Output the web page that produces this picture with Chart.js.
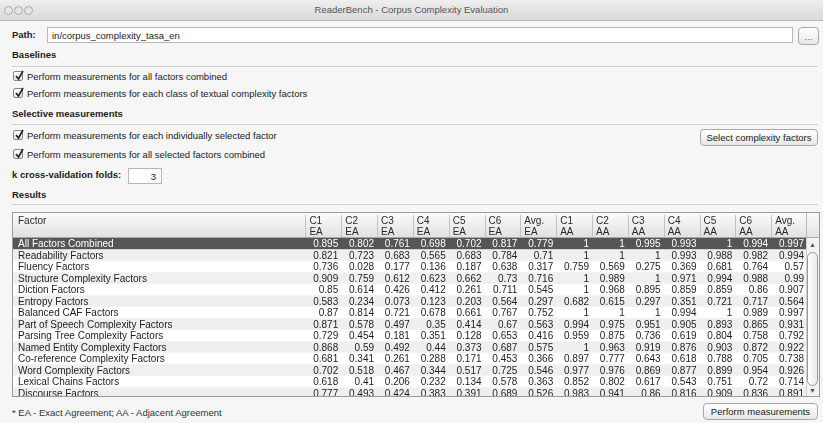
<!DOCTYPE html>
<html><head><meta charset="utf-8">
<script src="https://cdn.jsdelivr.net/npm/chart.js@4.4.0/dist/chart.umd.min.js"></script>
<style>
html,body{margin:0;padding:0}
body{width:823px;height:423px;overflow:hidden;background:#f6f6f6;font-family:"Liberation Sans",Arial,sans-serif;font-size:9.5px;color:#222;position:relative}
.a{position:absolute;white-space:nowrap}
#title{left:0;top:0;width:823px;height:20px;background:linear-gradient(#efefef,#d9d9d9);border-bottom:1px solid #b4b4b4}
#title span{position:absolute;left:0;right:0;top:4px;text-align:center;color:#555;font-size:9.5px}
.dot{position:absolute;top:6px;width:7px;height:7px;border:1px solid #aaa;border-radius:50%;background:#e6e6e6}
.b{font-weight:bold}
.field{background:#fff;border:1px solid #b8b8b8;box-sizing:border-box}
.btn{background:linear-gradient(#ffffff,#e8e8e8);border:1px solid #a8a8a8;border-radius:4px;box-sizing:border-box;text-align:center;font-size:9.5px}
.hr{height:1px;background:#cfcfcf;left:12px;width:806px}
.cb{width:10px;height:10px;border:1px solid #888;border-radius:2px;background:linear-gradient(#fff,#e4e4e4);box-sizing:border-box}
.cb svg{position:absolute;left:0;top:-2px}
#table{left:12px;top:212px;width:808px;height:185px;border:1px solid #9a9a9a;box-sizing:border-box;overflow:hidden;background:#fff}
#corner{right:0;top:0;width:13px;height:25px;background:linear-gradient(#fbfbfb,#e2e2e2);border-left:1px solid #bbb;border-bottom:1px solid #aaa;box-sizing:border-box}
#sb{right:0;top:25px;width:13px;height:160px;background:#f3f3f3;border-left:1px solid #d0d0d0;box-sizing:border-box}
</style></head>
<body>
<div id="title" class="a"><div class="dot" style="left:4px"></div><div class="dot" style="left:14px"></div><div class="dot" style="left:24px"></div><span>ReaderBench - Corpus Complexity Evaluation</span></div>

<div class="a b" style="left:12px;top:29px">Path:</div>
<div class="a field" style="left:47px;top:27px;width:746px;height:16px"><span style="position:absolute;left:4px;top:2px">in/corpus_complexity_tasa_en</span></div>
<div class="a btn" style="left:798px;top:27px;width:21px;height:18px;line-height:18px;color:#666">...</div>

<div class="a b" style="left:12px;top:49px">Baselines</div>
<div class="a hr" style="top:66px"></div>

<div class="a cb" style="left:13px;top:71px"><svg width="11" height="11" viewBox="0 0 11 11"><path d="M2 6 L4.5 9 L9 1" stroke="#222" stroke-width="1.6" fill="none"/></svg></div>
<div class="a" style="left:27px;top:71px">Perform measurements for all factors combined</div>
<div class="a cb" style="left:13px;top:88px"><svg width="11" height="11" viewBox="0 0 11 11"><path d="M2 6 L4.5 9 L9 1" stroke="#222" stroke-width="1.6" fill="none"/></svg></div>
<div class="a" style="left:27px;top:88px">Perform measurements for each class of textual complexity factors</div>

<div class="a b" style="left:12px;top:108px">Selective measurements</div>
<div class="a hr" style="top:124px"></div>

<div class="a cb" style="left:13px;top:130px"><svg width="11" height="11" viewBox="0 0 11 11"><path d="M2 6 L4.5 9 L9 1" stroke="#222" stroke-width="1.6" fill="none"/></svg></div>
<div class="a" style="left:27px;top:130px">Perform measurements for each individually selected factor</div>
<div class="a btn" style="left:700px;top:129px;width:118px;height:17px;line-height:15px">Select complexity factors</div>
<div class="a cb" style="left:13px;top:149px"><svg width="11" height="11" viewBox="0 0 11 11"><path d="M2 6 L4.5 9 L9 1" stroke="#222" stroke-width="1.6" fill="none"/></svg></div>
<div class="a" style="left:27px;top:149px">Perform measurements for all selected factors combined</div>

<div class="a b" style="left:12px;top:169px">k cross-validation folds:</div>
<div class="a field" style="left:128px;top:168px;width:34px;height:16px;text-align:right;padding:2px 5px 0 0">3</div>

<div class="a b" style="left:12px;top:189px">Results</div>
<div class="a hr" style="top:204px"></div>

<div id="table" class="a">
  <canvas id="c" width="794" height="186" style="position:absolute;left:0;top:0"></canvas>
  <div id="corner" class="a"></div>
  <div id="sb" class="a">
    <div class="a" style="left:2px;top:3px;font-size:7px;color:#555">&#9650;</div>
    <div class="a" style="left:0px;top:14px;width:11px;height:134px;border:1px solid #999;border-radius:6px;background:linear-gradient(90deg,#fff,#e9e9e9);box-sizing:border-box"></div>
    <div class="a" style="left:2px;top:149px;font-size:7px;color:#555">&#9660;</div>
  </div>
</div>

<div class="a" style="left:12px;top:407px;color:#333">* EA - Exact Agreement; AA - Adjacent Agreement</div>
<div class="a btn" style="left:703px;top:403px;width:115px;height:17px;line-height:15px">Perform measurements</div>

<script>
const factors = ["All Factors Combined","Readability Factors","Fluency Factors","Structure Complexity Factors","Diction Factors","Entropy Factors","Balanced CAF Factors","Part of Speech Complexity Factors","Parsing Tree Complexity Factors","Named Entity Complexity Factors","Co-reference Complexity Factors","Word Complexity Factors","Lexical Chains Factors","Discourse Factors"];
const colTop = ["C1","C2","C3","C4","C5","C6","Avg.","C1","C2","C3","C4","C5","C6","Avg."];
const colBottom = ["EA","EA","EA","EA","EA","EA","EA","AA","AA","AA","AA","AA","AA","AA"];

const c1EA  = [0.895,0.821,0.736,0.909,0.85,0.583,0.87,0.871,0.729,0.868,0.681,0.702,0.618,0.777];
const c2EA  = [0.802,0.723,0.028,0.759,0.614,0.234,0.814,0.578,0.454,0.59,0.341,0.518,0.41,0.493];
const c3EA  = [0.761,0.683,0.177,0.612,0.426,0.073,0.721,0.497,0.181,0.492,0.261,0.467,0.206,0.424];
const c4EA  = [0.698,0.565,0.136,0.623,0.412,0.123,0.678,0.35,0.351,0.44,0.288,0.344,0.232,0.383];
const c5EA  = [0.702,0.683,0.187,0.662,0.261,0.203,0.661,0.414,0.128,0.373,0.171,0.517,0.134,0.391];
const c6EA  = [0.817,0.784,0.638,0.73,0.711,0.564,0.767,0.67,0.653,0.687,0.453,0.725,0.578,0.689];
const avgEA = [0.779,0.71,0.317,0.716,0.545,0.297,0.752,0.563,0.416,0.575,0.366,0.546,0.363,0.526];
const c1AA  = [1,1,0.759,1,1,0.682,1,0.994,0.959,1,0.897,0.977,0.852,0.983];
const c2AA  = [1,1,0.569,0.989,0.968,0.615,1,0.975,0.875,0.963,0.777,0.976,0.802,0.941];
const c3AA  = [0.995,1,0.275,1,0.895,0.297,1,0.951,0.736,0.919,0.643,0.869,0.617,0.86];
const c4AA  = [0.993,0.993,0.369,0.971,0.859,0.351,0.994,0.905,0.619,0.876,0.618,0.877,0.543,0.816];
const c5AA  = [1,0.988,0.681,0.994,0.859,0.721,1,0.893,0.804,0.903,0.788,0.899,0.751,0.909];
const c6AA  = [0.994,0.982,0.764,0.988,0.86,0.717,0.989,0.865,0.758,0.872,0.705,0.954,0.72,0.836];
const avgAA = [0.997,0.994,0.57,0.99,0.907,0.564,0.997,0.931,0.792,0.922,0.738,0.926,0.714,0.891];

const columns = [c1EA,c2EA,c3EA,c4EA,c5EA,c6EA,avgEA,c1AA,c2AA,c3AA,c4AA,c5AA,c6AA,avgAA];
const selectedRow = 0;

const FACTOR_SPAN = 8.16;  // width of the "Factor" column in column units
const FONT = '10px "Liberation Sans", Arial, sans-serif';

const tablePlugin = {
  id: 'tableText',
  afterDatasetsDraw(chart) {
    const {ctx, scales: {x, y}, chartArea} = chart;
    ctx.save();
    ctx.font = FONT;
    ctx.textBaseline = 'middle';
    const left = x.getPixelForValue(-FACTOR_SPAN);
    factors.forEach((f, r) => {
      const yc = y.getPixelForValue(r) + 0.5;
      ctx.fillStyle = r === selectedRow ? '#ffffff' : '#1e1e1e';
      ctx.textAlign = 'left';
      ctx.fillText(f, left + 5, yc);
      ctx.textAlign = 'right';
      columns.forEach((col, c) => {
        ctx.fillText(String(col[r]), x.getPixelForValue(c + 1) - 3, yc);
      });
    });
    // header
    const h = chartArea.top;
    const g = ctx.createLinearGradient(0, 0, 0, h);
    g.addColorStop(0, '#fbfbfb');
    g.addColorStop(1, '#e0e0e0');
    ctx.fillStyle = g;
    ctx.fillRect(0, 0, chart.width, h);
    ctx.fillStyle = '#a8a8a8';
    ctx.fillRect(0, h - 1, chart.width, 1);
    ctx.fillStyle = '#c2c2c2';
    for (let c = 0; c <= columns.length; c++) {
      const px = Math.round(x.getPixelForValue(c));
      ctx.fillRect(px, 2, 1, h - 3);
    }
    ctx.fillStyle = '#2a2a2a';
    ctx.textAlign = 'left';
    ctx.fillText('Factor', left + 5, 8);
    colTop.forEach((t, c) => {
      const px = x.getPixelForValue(c) + 4;
      ctx.fillText(t, px, 8);
      ctx.fillText(colBottom[c], px, 19);
    });
    ctx.restore();
  }
};

new Chart(document.getElementById('c'), {
  type: 'bar',
  data: {
    labels: factors,
    datasets: [{
      data: factors.map(() => [-FACTOR_SPAN, columns.length]),
      backgroundColor: factors.map((f, i) => i === selectedRow ? '#555555' : (i % 2 ? '#efefef' : '#ffffff')),
      borderWidth: 0,
      barPercentage: 1,
      categoryPercentage: 1
    }]
  },
  options: {
    indexAxis: 'y',
    responsive: false,
    animation: false,
    events: [],
    layout: {padding: {top: 25, left: 0, right: 0, bottom: 0}},
    plugins: {legend: {display: false}, tooltip: {enabled: false}},
    scales: {
      x: {type: 'linear', min: -FACTOR_SPAN, max: columns.length, display: false},
      y: {type: 'category', display: false}
    }
  },
  plugins: [tablePlugin]
});
</script>
</body></html>
